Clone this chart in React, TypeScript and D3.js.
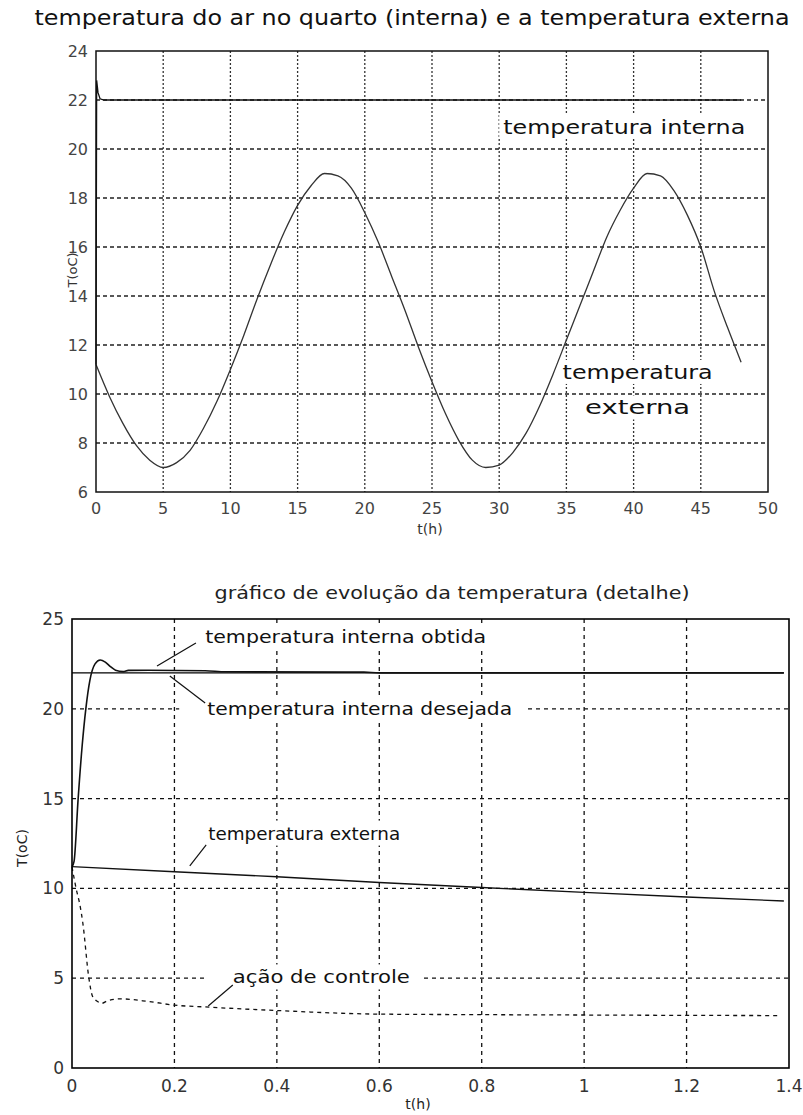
import React, { useEffect, useRef } from 'react';
import * as d3 from 'd3';

// top chart: 48 h simulation
const horasTopo = [0, 1, 2, 3, 4, 5, 6, 7, 8, 9, 10, 11, 12, 13, 14, 15, 16, 17, 18, 19, 20, 21, 22, 23, 24,
  25, 26, 27, 28, 29, 30, 31, 32, 33, 34, 35, 36, 37, 38, 39, 40, 41, 42, 43, 44, 45, 46, 47, 48];
const externaTopo = [11.2, 9.9, 8.8, 7.9, 7.3, 7.0, 7.2, 7.7, 8.6, 9.7, 11.0, 12.4, 13.9, 15.3, 16.6, 17.7, 18.5, 19.0,
  18.9, 18.4, 17.4, 16.2, 14.8, 13.4, 11.9, 10.5, 9.2, 8.1, 7.3, 7.0, 7.1, 7.6, 8.4, 9.5, 10.8, 12.2, 13.6, 15.0,
  16.4, 17.5, 18.4, 19.0, 18.9, 18.3, 17.3, 16.0, 14.2, 12.7, 11.3];
const internaTopoT = [0, 0.05, 0.15, 0.3, 0.6, 48];
const internaTopoV = [11.2, 22.8, 22.3, 22.05, 22.0, 22.0];
const ticksXTopo = [0, 5, 10, 15, 20, 25, 30, 35, 40, 45, 50];
const ticksYTopo = [6, 8, 10, 12, 14, 16, 18, 20, 22, 24];

// bottom chart: detail of the first 1.4 h
const obtidaT = [0, 0.004, 0.012, 0.02, 0.027, 0.035, 0.045, 0.055, 0.065, 0.075, 0.085, 0.1, 0.11, 0.15, 0.26, 0.3, 0.57, 0.6, 1.39];
const obtidaV = [11.2, 11.5, 15.0, 18.0, 20.0, 21.6, 22.5, 22.72, 22.6, 22.35, 22.15, 22.07, 22.14, 22.15, 22.12, 22.06, 22.04, 22.0, 22.0];
const desejadaT = [0, 1.39];
const desejadaV = [22, 22];
const externaDetT = [0, 0.2, 0.4, 0.6, 0.8, 1.0, 1.2, 1.39];
const externaDetV = [11.21, 10.93, 10.65, 10.33, 10.05, 9.78, 9.52, 9.3];
const controleT = [0, 0.008, 0.016, 0.021, 0.033, 0.04, 0.05, 0.058, 0.07, 0.094, 0.15, 0.2, 0.26, 0.4, 0.6, 0.8, 1.0, 1.2, 1.377];
const controleV = [11.2, 10.0, 9.0, 8.1, 5.0, 4.0, 3.7, 3.6, 3.75, 3.85, 3.7, 3.5, 3.4, 3.2, 3.0, 2.97, 2.95, 2.93, 2.92];
const ticksXDet = [0, 0.2, 0.4, 0.6, 0.8, 1, 1.2, 1.4];
const ticksYDet = [0, 5, 10, 15, 20, 25];

const FONT = '"DejaVu Sans", Verdana, sans-serif';

function zip(t: number[], v: number[]) {
  return t.map((d, i) => [d, v[i]] as [number, number]);
}

function App() {
  const ref = useRef<SVGSVGElement>(null);

  useEffect(() => {
    const svg = d3.select(ref.current);
    svg.selectAll('*').remove();
    svg.append('rect').attr('width', 803).attr('height', 1115).attr('fill', '#fff');

    // ---------- top chart ----------
    let x = d3.scaleLinear().domain([0, 50]).range([96, 768]);
    let y = d3.scaleLinear().domain([6, 24]).range([492, 51]);
    let g = svg.append('g');

    g.append('g').selectAll('line').data(ticksXTopo.slice(1, -1)).enter().append('line')
      .attr('x1', d => x(d)).attr('x2', d => x(d)).attr('y1', y(24)).attr('y2', y(6))
      .attr('stroke', '#333').attr('stroke-width', 1.3).attr('stroke-dasharray', '2,2');
    g.append('g').selectAll('line').data(ticksYTopo.slice(1, -1)).enter().append('line')
      .attr('x1', x(0)).attr('x2', x(50)).attr('y1', d => y(d)).attr('y2', d => y(d))
      .attr('stroke', '#222').attr('stroke-width', 1.3).attr('stroke-dasharray', '4,3');

    let line = d3.line<[number, number]>().x(d => x(d[0])).y(d => y(d[1]));
    const labelsTopo = [
      { t: 30.3, v: 20.9, txt: 'temperatura interna', anchor: 'start', w: 242 },
      { t: 40.3, v: 10.9, txt: 'temperatura', anchor: 'middle', w: 150 },
      { t: 40.3, v: 9.45, txt: 'externa', anchor: 'middle', w: 105 },
    ];
    const lt = g.append('g').selectAll('g').data(labelsTopo).enter().append('g');
    lt.append('rect').attr('fill', '#fff');
    lt.append('text').attr('x', d => x(d.t)).attr('y', d => y(d.v))
      .attr('text-anchor', d => d.anchor).attr('dominant-baseline', 'central')
      .attr('textLength', d => d.w).attr('lengthAdjust', 'spacingAndGlyphs')
      .style('font-family', FONT).style('font-size', '20px').attr('fill', '#111').text(d => d.txt);
    lt.each(function () {
      const n = d3.select(this);
      const b = (n.select('text').node() as SVGTextElement).getBBox();
      n.select('rect').attr('x', b.x - 4).attr('y', b.y).attr('width', b.width + 8).attr('height', b.height);
    });

    g.append('path').datum(zip(horasTopo, externaTopo)).attr('d', d3.line<[number, number]>()
      .x(d => x(d[0])).y(d => y(d[1])).curve(d3.curveMonotoneX))
      .attr('fill', 'none').attr('stroke', '#333').attr('stroke-width', 1.3);
    g.append('path').datum(zip(internaTopoT, internaTopoV)).attr('d', line)
      .attr('fill', 'none').attr('stroke', '#111').attr('stroke-width', 1.3);

    g.append('rect').attr('x', x(0)).attr('y', y(24)).attr('width', x(50) - x(0)).attr('height', y(6) - y(24))
      .attr('fill', 'none').attr('stroke', '#111').attr('stroke-width', 1.5);

    g.append('g').selectAll('text').data(ticksXTopo).enter().append('text')
      .attr('x', d => x(d)).attr('y', y(6) + 16).attr('text-anchor', 'middle').attr('dominant-baseline', 'central')
      .style('font-family', FONT).style('font-size', '16px').attr('fill', '#444').text(d => d);
    g.append('g').selectAll('text').data(ticksYTopo).enter().append('text')
      .attr('x', x(0) - 8).attr('y', d => y(d)).attr('text-anchor', 'end').attr('dominant-baseline', 'central')
      .style('font-family', FONT).style('font-size', '16px').attr('fill', '#444').text(d => d);

    g.append('text').attr('x', 412).attr('y', 18).attr('text-anchor', 'middle').attr('dominant-baseline', 'central')
      .attr('textLength', 755).attr('lengthAdjust', 'spacingAndGlyphs')
      .style('font-family', FONT).style('font-size', '21px').attr('fill', '#111')
      .text('temperatura do ar no quarto (interna) e a temperatura externa');
    g.append('text').attr('x', 430).attr('y', 529).attr('text-anchor', 'middle').attr('dominant-baseline', 'central')
      .style('font-family', FONT).style('font-size', '14px').attr('fill', '#333').text('t(h)');
    g.append('text').attr('transform', 'translate(72,270) rotate(-90)').attr('text-anchor', 'middle')
      .attr('dominant-baseline', 'central')
      .style('font-family', FONT).style('font-size', '13px').attr('fill', '#333').text('T(oC)');

    // ---------- bottom chart ----------
    x = d3.scaleLinear().domain([0, 1.4]).range([72, 789]);
    y = d3.scaleLinear().domain([0, 25]).range([1068, 619]);
    g = svg.append('g');
    line = d3.line<[number, number]>().x(d => x(d[0])).y(d => y(d[1]));

    g.append('g').selectAll('line').data(ticksXDet.slice(1, -1)).enter().append('line')
      .attr('x1', d => x(d)).attr('x2', d => x(d)).attr('y1', y(25)).attr('y2', y(0))
      .attr('stroke', '#111').attr('stroke-width', 1.3).attr('stroke-dasharray', '4,4');
    g.append('g').selectAll('line').data(ticksYDet.slice(1, -1)).enter().append('line')
      .attr('x1', x(0)).attr('x2', x(1.4)).attr('y1', d => y(d)).attr('y2', d => y(d))
      .attr('stroke', '#111').attr('stroke-width', 1.3).attr('stroke-dasharray', '4,4');

    const labelsDet = [
      { t: 0.26, v: 24.0, txt: 'temperatura interna obtida', w: 281, l: [0.242, 23.66, 0.166, 22.38] },
      { t: 0.264, v: 20.04, txt: 'temperatura interna desejada', w: 305, l: [0.191, 21.83, 0.26, 20.32] },
      { t: 0.266, v: 13.08, txt: 'temperatura externa', w: 192, l: [0.262, 12.42, 0.23, 11.25] },
      { t: 0.314, v: 5.07, txt: 'ação de controle', w: 177, l: [0.314, 4.62, 0.266, 3.45] },
    ];
    const ld = g.append('g').selectAll('g').data(labelsDet).enter().append('g');
    ld.append('rect').attr('fill', '#fff');
    ld.append('text').attr('x', d => x(d.t)).attr('y', d => y(d.v)).attr('dominant-baseline', 'central')
      .attr('textLength', d => d.w).attr('lengthAdjust', 'spacingAndGlyphs')
      .style('font-family', FONT).style('font-size', '18px').attr('fill', '#111').text(d => d.txt);
    ld.each(function () {
      const n = d3.select(this);
      const b = (n.select('text').node() as SVGTextElement).getBBox();
      n.select('rect').attr('x', b.x - 28).attr('y', b.y - 2).attr('width', b.width + 40).attr('height', b.height + 4);
    });

    g.append('path').datum(zip(desejadaT, desejadaV)).attr('d', line)
      .attr('fill', 'none').attr('stroke', '#000').attr('stroke-width', 1.4);
    g.append('path').datum(zip(externaDetT, externaDetV)).attr('d', line)
      .attr('fill', 'none').attr('stroke', '#111').attr('stroke-width', 1.4);
    g.append('path').datum(zip(obtidaT, obtidaV)).attr('d', line.curve(d3.curveMonotoneX))
      .attr('fill', 'none').attr('stroke', '#111').attr('stroke-width', 1.6);
    g.append('path').datum(zip(controleT, controleV)).attr('d', line.curve(d3.curveMonotoneX))
      .attr('fill', 'none').attr('stroke', '#111').attr('stroke-width', 1.3).attr('stroke-dasharray', '4,4');
    ld.append('line')
      .attr('x1', d => x(d.l[0])).attr('y1', d => y(d.l[1])).attr('x2', d => x(d.l[2])).attr('y2', d => y(d.l[3]))
      .attr('stroke', '#111').attr('stroke-width', 1.2);

    g.append('rect').attr('x', x(0)).attr('y', y(25)).attr('width', x(1.4) - x(0)).attr('height', y(0) - y(25))
      .attr('fill', 'none').attr('stroke', '#000').attr('stroke-width', 1.6);

    g.append('g').selectAll('text').data(ticksXDet).enter().append('text')
      .attr('x', d => x(d)).attr('y', y(0) + 18).attr('text-anchor', 'middle').attr('dominant-baseline', 'central')
      .style('font-family', FONT).style('font-size', '17px').attr('fill', '#333').text(d => d);
    g.append('g').selectAll('text').data(ticksYDet).enter().append('text')
      .attr('x', x(0) - 8).attr('y', d => y(d)).attr('text-anchor', 'end').attr('dominant-baseline', 'central')
      .style('font-family', FONT).style('font-size', '17px').attr('fill', '#333').text(d => d);

    g.append('text').attr('x', 452).attr('y', 593).attr('text-anchor', 'middle').attr('dominant-baseline', 'central')
      .attr('textLength', 475).attr('lengthAdjust', 'spacingAndGlyphs')
      .style('font-family', FONT).style('font-size', '17px').attr('fill', '#222')
      .text('gráfico de evolução da temperatura (detalhe)');
    g.append('text').attr('x', 418).attr('y', 1104).attr('text-anchor', 'middle').attr('dominant-baseline', 'central')
      .style('font-family', FONT).style('font-size', '14px').attr('fill', '#222').text('t(h)');
    g.append('text').attr('transform', 'translate(22,848) rotate(-90)').attr('text-anchor', 'middle')
      .attr('dominant-baseline', 'central')
      .style('font-family', FONT).style('font-size', '14px').attr('fill', '#222').text('T(oC)');
  }, []);

  return (
    <div style={{ position: 'absolute', left: 0, top: 0 }}>
      <svg ref={ref} width={803} height={1115} />
    </div>
  );
}

export default App;
